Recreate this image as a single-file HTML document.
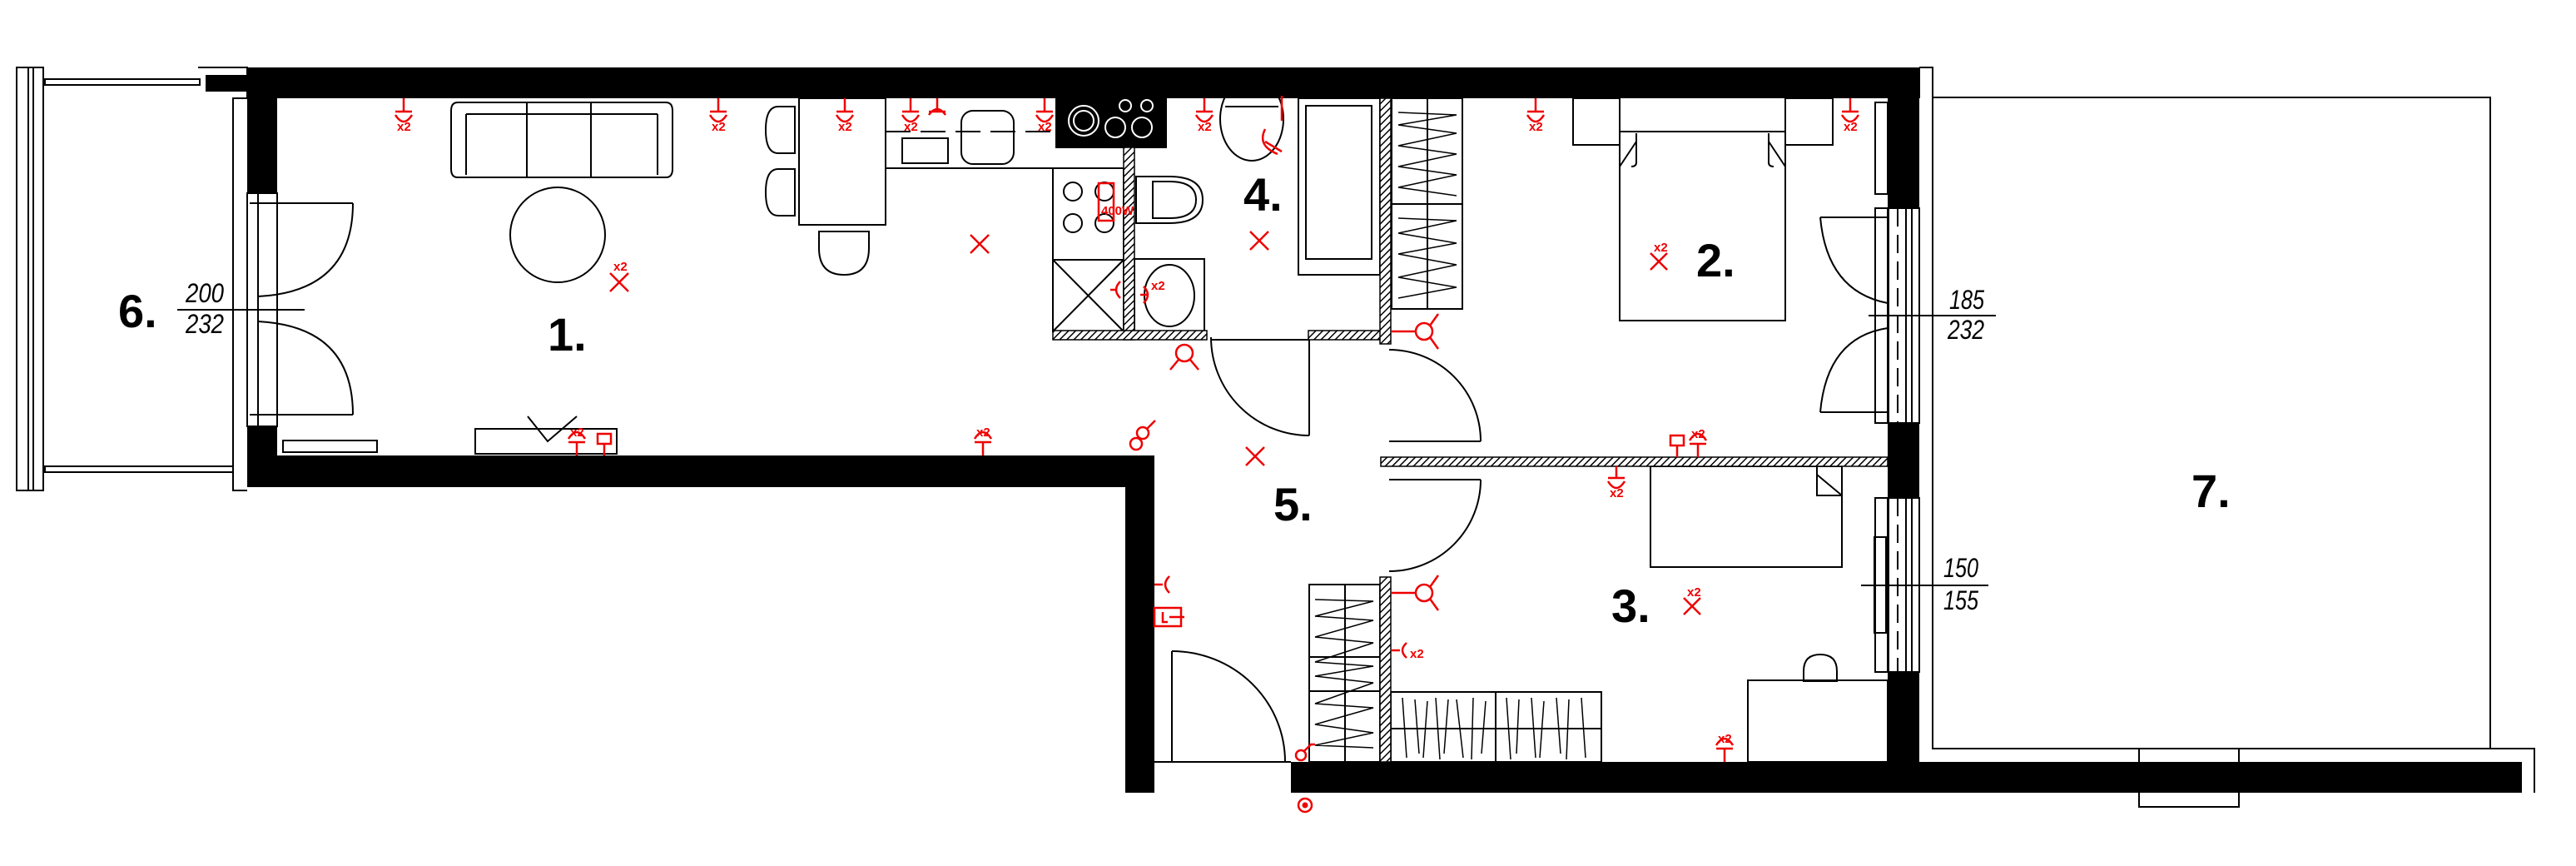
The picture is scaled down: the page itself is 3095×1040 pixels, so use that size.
<!DOCTYPE html>
<html><head><meta charset="utf-8"><style>
html,body{margin:0;padding:0;background:#fff;}
svg{display:block;}
.n{font-family:"Liberation Sans Narrow","Liberation Sans",sans-serif;font-weight:bold;font-size:56px;fill:#000;}
.d{font-family:"Liberation Sans",sans-serif;font-style:italic;font-size:32px;fill:#000;}
.r{font-family:"Liberation Sans Narrow","Liberation Sans",sans-serif;font-weight:bold;font-size:15px;fill:#e00;}
</style></head><body>
<svg width="3095" height="1040" viewBox="0 0 3095 1040" xmlns="http://www.w3.org/2000/svg">
<defs>
<pattern id="h" width="6" height="6" patternUnits="userSpaceOnUse" patternTransform="rotate(45)">
<rect width="6" height="6" fill="#fff"/><line x1="0" y1="0" x2="0" y2="6" stroke="#000" stroke-width="3"/>
</pattern>
</defs>
<g fill="none" stroke="#000" stroke-width="2">
<!-- balcony 6 -->
<rect x="20" y="81" width="32" height="508"/>
<line x1="34" y1="81" x2="34" y2="589"/><line x1="40" y1="81" x2="40" y2="589"/>
<rect x="54" y="95" width="186" height="7"/>
<rect x="54" y="560" width="226" height="7"/>
<path d="M238,81 H297 V118 H280 V589 H297"/>
<!-- balcony door frame left -->
<rect x="297" y="232" width="36" height="280"/>
<line x1="310" y1="232" x2="310" y2="512"/>
<line x1="300" y1="244" x2="424" y2="244"/>
<path d="M424,244 Q424,350 310,356"/>
<line x1="300" y1="498" x2="424" y2="498"/>
<path d="M424,498 Q424,392 310,386"/>
<rect x="340" y="529" width="113" height="14"/>
<!-- balcony 7 -->
<path d="M2306,81 H2322 V899 H3045 V952"/>
<rect x="2322" y="117" width="670" height="782"/>
<rect x="2570" y="899" width="120" height="70"/>
<line x1="2582" y1="925" x2="2678" y2="925"/>
<line x1="2582" y1="932" x2="2678" y2="932"/>
<!-- right windows -->
<rect x="2253" y="250" width="15" height="258"/><rect x="2253" y="598" width="15" height="209"/>
<rect x="2269" y="250" width="37" height="258"/><rect x="2269" y="598" width="37" height="209"/>
<line x1="2290" y1="250" x2="2290" y2="508"/><line x1="2290" y1="598" x2="2290" y2="807"/>
<line x1="2297" y1="250" x2="2297" y2="508"/><line x1="2297" y1="598" x2="2297" y2="807"/>
<line x1="2280" y1="250" x2="2280" y2="508" stroke-dasharray="22,10"/>
<line x1="2280" y1="598" x2="2280" y2="807" stroke-dasharray="22,10"/>
<rect x="2252" y="645" width="14" height="115"/>
<line x1="2187" y1="261" x2="2268" y2="261"/>
<path d="M2187,261 Q2195,350 2268,364"/>
<line x1="2187" y1="495" x2="2268" y2="495"/>
<path d="M2187,495 Q2195,405 2268,394"/>
<rect x="2253" y="123" width="15" height="110"/>
<!-- interior doors -->
<path d="M1455,405 A118,118 0 0 0 1573,523"/><line x1="1573" y1="405" x2="1573" y2="523"/>
<line x1="1455" y1="408" x2="1573" y2="408"/>
<line x1="1669" y1="530" x2="1779" y2="530"/><path d="M1779,530 A110,110 0 0 0 1669,420"/>
<line x1="1669" y1="576" x2="1779" y2="576"/><path d="M1779,576 A110,110 0 0 1 1669,686"/>
<line x1="1408" y1="782" x2="1408" y2="915"/><path d="M1408,782 A136,133 0 0 1 1544,915"/>
<line x1="1387" y1="915" x2="1551" y2="915"/>
<!-- living furniture -->
<path d="M550,123 h250 q8,0 8,10 v70 q0,10 -8,10 h-250 q-8,0 -8,-10 v-70 q0,-10 8,-10z"/>
<line x1="560" y1="137" x2="560" y2="210"/><line x1="790" y1="137" x2="790" y2="210"/>
<line x1="633" y1="122" x2="633" y2="213"/><line x1="710" y1="122" x2="710" y2="213"/>
<line x1="560" y1="137" x2="790" y2="137"/>
<ellipse cx="670" cy="282" rx="57" ry="57"/>
<rect x="960" y="118" width="104" height="152"/>
<path d="M955,128 h-20 q-15,0 -15,28 q0,28 15,28 h20z"/>
<path d="M955,203 h-20 q-15,0 -15,28 q0,28 15,28 h20z"/>
<path d="M984,278 v20 q0,32 30,32 q30,0 30,-32 v-20z"/>
<rect x="571" y="515" width="170" height="30"/>
<path d="M634,500 L658,530 L693,500"/>
<!-- kitchen -->
<path d="M1064,118 V202 H1268"/>
<line x1="1064" y1="158" x2="1268" y2="158" stroke-dasharray="30,12"/>
<rect x="1155" y="133" width="63" height="64" rx="14"/>
<rect x="1084" y="166" width="55" height="30"/>
<rect x="1265" y="202" width="85" height="110"/>
<circle cx="1289" cy="230" r="11"/><circle cx="1327" cy="230" r="11"/>
<circle cx="1289" cy="268" r="11"/><circle cx="1327" cy="268" r="11"/>
<rect x="1265" y="312" width="85" height="86"/>
<line x1="1265" y1="312" x2="1350" y2="398"/><line x1="1350" y1="312" x2="1265" y2="398"/>
<!-- bathroom -->
<path d="M1365,212 h40 q40,0 40,28 q0,28 -40,28 h-40z"/>
<path d="M1385,218 h20 q32,0 32,22 q0,22 -32,22 h-20z"/>
<ellipse cx="1504" cy="143" rx="38" ry="50"/>
<path d="M1472,128 h64"/>
<rect x="1560" y="118" width="98" height="212"/>
<rect x="1569" y="127" width="79" height="184"/>
<rect x="1363" y="311" width="84" height="87"/>
<ellipse cx="1405" cy="355" rx="30" ry="37"/>
<!-- wardrobes -->
<rect x="1672" y="118" width="85" height="253"/><line x1="1715" y1="118" x2="1715" y2="371"/>
<line x1="1672" y1="245" x2="1757" y2="245"/>
<path d="M1680,135 L1750,138 L1680,150 L1750,160 L1680,175 L1750,185 L1680,200 L1750,210 L1680,225 L1750,235" stroke-width="1.5"/>
<path d="M1680,262 L1750,265 L1680,280 L1750,292 L1680,305 L1750,318 L1680,333 L1750,345 L1680,358" stroke-width="1.5"/>
<rect x="1573" y="702" width="85" height="213"/><line x1="1616" y1="702" x2="1616" y2="915"/>
<line x1="1573" y1="789" x2="1658" y2="789"/><line x1="1573" y1="830" x2="1658" y2="830"/>
<path d="M1580,720 L1650,722 L1580,740 L1650,745 L1580,765 L1650,772 L1580,795 L1650,800 L1580,812 L1650,820 L1580,845 L1650,850 L1580,870 L1650,880 L1580,895 L1650,898" stroke-width="1.5"/>
<rect x="1671" y="831" width="253" height="84"/><line x1="1797" y1="831" x2="1797" y2="915"/>
<line x1="1671" y1="875" x2="1924" y2="875"/>
<path d="M1685,838 L1690,910 M1700,840 L1705,905 M1715,842 L1710,910 M1725,838 L1730,912 M1740,840 L1735,905 M1750,840 L1758,910 M1770,838 L1768,912 M1785,842 L1780,905 M1810,838 L1815,912 M1825,840 L1822,905 M1840,838 L1845,910 M1855,842 L1850,910 M1870,838 L1875,905 M1885,840 L1882,912 M1900,838 L1905,910" stroke-width="1.5"/>
<!-- bedroom 2 -->
<rect x="1890" y="118" width="56" height="56"/><rect x="2145" y="118" width="57" height="56"/>
<rect x="1946" y="158" width="199" height="227"/>
<path d="M1946,200 L1966,170 M2145,200 L2125,170 M1966,160 V195 Q1966,200 1960,200 M2125,160 V195 Q2125,200 2131,200"/>
<!-- bedroom 3 -->
<rect x="1983" y="560" width="230" height="121"/>
<path d="M2183,560 V595 H2213 M2183,570 L2213,595"/>
<rect x="2100" y="817" width="168" height="98"/>
<path d="M2167,818 v-12 q0,-20 20,-20 q20,0 20,20 v12z"/>
</g>
<!-- walls -->
<g fill="#000">
<rect x="297" y="81" width="2010" height="37"/>
<rect x="247" y="90" width="50" height="20"/>
<rect x="297" y="81" width="36" height="151"/>
<rect x="297" y="512" width="36" height="73"/>
<rect x="297" y="547" width="1090" height="38"/>
<rect x="1352" y="547" width="35" height="405"/>
<rect x="1551" y="915" width="1479" height="37"/>
<rect x="2268" y="81" width="38" height="169"/>
<rect x="2268" y="508" width="38" height="90"/>
<rect x="2268" y="807" width="38" height="145"/>
<rect x="1268" y="118" width="134" height="60"/>
</g>
<g fill="none" stroke="#fff" stroke-width="2">
<circle cx="1302" cy="145" r="18"/><circle cx="1302" cy="145" r="12"/>
<circle cx="1340" cy="153" r="12"/><circle cx="1372" cy="153" r="12"/>
<circle cx="1352" cy="127" r="7"/><circle cx="1378" cy="127" r="7"/>
</g>
<g fill="url(#h)" stroke="#000" stroke-width="1.5">
<rect x="1350" y="177" width="13" height="231"/>
<rect x="1265" y="397" width="185" height="11"/>
<rect x="1572" y="397" width="88" height="11"/>
<rect x="1658" y="118" width="13" height="295"/>
<rect x="1659" y="549" width="609" height="11"/>
<rect x="1658" y="693" width="13" height="222"/>
</g>
<!-- labels -->
<text class="n" x="658" y="421">1.</text>
<text class="n" x="2038" y="332">2.</text>
<text class="n" x="1936" y="747">3.</text>
<text class="n" x="1494" y="253">4.</text>
<text class="n" x="1530" y="625">5.</text>
<text class="n" x="142" y="393">6.</text>
<text class="n" x="2633" y="609">7.</text>
<text class="d" x="223" y="363" textLength="46" lengthAdjust="spacingAndGlyphs">200</text>
<text class="d" x="223" y="400" textLength="46" lengthAdjust="spacingAndGlyphs">232</text>
<line x1="213" y1="372" x2="366" y2="372" stroke="#000" stroke-width="2"/>
<text class="d" x="2342" y="371" textLength="42" lengthAdjust="spacingAndGlyphs">185</text>
<text class="d" x="2340" y="407" textLength="44" lengthAdjust="spacingAndGlyphs">232</text>
<line x1="2245" y1="379" x2="2398" y2="379" stroke="#000" stroke-width="2"/>
<text class="d" x="2335" y="693" textLength="42" lengthAdjust="spacingAndGlyphs">150</text>
<text class="d" x="2335" y="732" textLength="42" lengthAdjust="spacingAndGlyphs">155</text>
<line x1="2236" y1="703" x2="2389" y2="703" stroke="#000" stroke-width="2"/>
<!-- red electrical -->
<g stroke="#e00" stroke-width="2.5" fill="none">
<path d="M733,328 l22,22 M755,328 l-22,22"/>
<path d="M1166,282 l22,22 M1188,282 l-22,22"/>
<path d="M1502,278 l22,22 M1524,278 l-22,22"/>
<path d="M1497,537 l22,22 M1519,537 l-22,22"/>
<path d="M1983,304 l20,20 M2003,304 l-20,20"/>
<path d="M2023,718 l20,20 M2043,718 l-20,20"/>
<g id="sd">
<path d="M485,118 v16 M475,134 h20 M475,138 q10,16 20,0"/>
<path d="M863,118 v16 M853,134 h20 M853,138 q10,16 20,0"/>
<path d="M1015,118 v16 M1005,134 h20 M1005,138 q10,16 20,0"/>
<path d="M1094,118 v16 M1084,134 h20 M1084,138 q10,16 20,0"/>
<path d="M1126,118 v16 M1116,134 h20 M1116,138 q10,-14 20,0"/>
<path d="M1255,118 v16 M1245,134 h20 M1245,138 q10,16 20,0"/>
<path d="M1447,118 v16 M1437,134 h20 M1437,138 q10,16 20,0"/>
<path d="M1845,118 v16 M1835,134 h20 M1835,138 q10,16 20,0"/>
<path d="M2223,118 v16 M2213,134 h20 M2213,138 q10,16 20,0"/>
<path d="M1942,560 v14 M1932,574 h20 M1932,578 q10,16 20,0"/>
</g>
<path d="M693,547 v-16 M683,531 h20 M683,527 q10,-16 20,0"/>
<path d="M1181,547 v-16 M1171,531 h20 M1171,527 q10,-16 20,0"/>
<path d="M2072,915 v-16 M2062,899 h20 M2062,895 q10,-16 20,0"/>
<path d="M2040,549 v-16 M2030,533 h20 M2030,529 q10,-16 20,0"/>
<path d="M726,547 v-14 M718,533 v-12 h16 v12z"/>
<path d="M2015,549 v-14 M2007,535 v-12 h16 v12z"/>
<circle cx="1423" cy="424" r="10"/><path d="M1416,432 l-10,12 M1430,432 l10,12"/>
<circle cx="1365" cy="533" r="7"/><circle cx="1373" cy="520" r="7"/><path d="M1378,515 l10,-10"/>
<circle cx="1711" cy="398" r="10"/><path d="M1718,391 l10,-14 M1718,405 l10,14 M1672,398 h29"/>
<circle cx="1711" cy="712" r="10"/><path d="M1718,705 l10,-14 M1718,719 l10,14 M1672,712 h29"/>
<path d="M1672,781 h10 M1690,772 q-10,9 0,18"/>
<circle cx="1563" cy="907" r="6"/><path d="M1567,902 l8,-8 h5"/>
<circle cx="1568" cy="967" r="8"/>
<path d="M1387,702 h10 M1405,692 q-10,10 0,20"/>
<rect x="1387" y="730" width="32" height="22"/><path d="M1397,735 v12 h6 M1405,741 h18"/>
<path d="M1334,348 h8 M1346,338 q-10,10 0,20"/>
<path d="M1378,354 h-8 M1374,344 q10,10 0,20"/>
<rect x="1320" y="220" width="18" height="45"/>
<path d="M1540,115 v30 M1520,155 q-10,20 15,30 M1520,170 l20,12"/>
</g>
<circle cx="1568" cy="967" r="3.5" fill="#e00"/>
<g class="r">
<text x="477" y="157" class="r">x2</text><text x="855" y="157" class="r">x2</text>
<text x="1007" y="157" class="r">x2</text><text x="1086" y="157" class="r">x2</text>
<text x="1247" y="157" class="r">x2</text><text x="1439" y="157" class="r">x2</text>
<text x="1837" y="157" class="r">x2</text><text x="2215" y="157" class="r">x2</text>
<text x="1934" y="597" class="r">x2</text><text x="685" y="524" class="r">x2</text>
<text x="1173" y="524" class="r">x2</text><text x="2064" y="892" class="r">x2</text>
<text x="2032" y="526" class="r">x2</text><text x="737" y="325" class="r">x2</text>
<text x="1987" y="302" class="r">x2</text><text x="2027" y="716" class="r">x2</text>
<text x="1694" y="790" class="r">x2</text><text x="1383" y="348" class="r">x2</text>
<text x="1323" y="258" class="r" font-size="12">400W</text>
</g>
</svg>
</body></html>
